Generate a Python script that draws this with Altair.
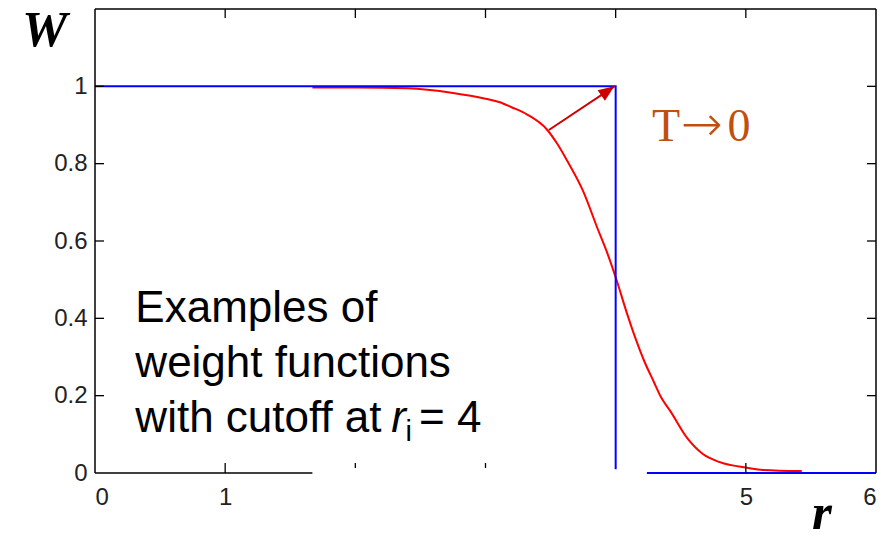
import altair as alt
import pandas as pd

# Smooth (finite-temperature) weight function
red_r = [1.67, 2.0, 2.4, 2.75, 3.0, 3.11, 3.2, 3.32, 3.47, 3.55, 3.63, 3.75, 3.86,
         3.94, 4.01, 4.08, 4.16, 4.22, 4.29, 4.35, 4.42, 4.55, 4.67, 4.80, 5.02,
         5.13, 5.43]
red_w = [0.997, 0.997, 0.995, 0.983, 0.968, 0.959, 0.946, 0.927, 0.889, 0.852,
         0.806, 0.729, 0.633, 0.565, 0.496, 0.42, 0.341, 0.289, 0.238, 0.195,
         0.160, 0.090, 0.049, 0.028, 0.013, 0.008, 0.005]

# Sharp step (T -> 0 limit) with cutoff at r = 4
step_r = [0, 4, 4]
step_w = [1, 1, 0.01]
base_r = [4.24, 6]
base_w = [0, 0]

# Arrow pointing from the smooth curve to the corner of the step
arrow_r = [3.487, 3.99]
arrow_w = [0.887, 1.0]

x_labels = [0, 1, 5, 6]
y_labels = [0, 0.2, 0.4, 0.6, 0.8, 1]
top_ticks = [1, 2, 3, 4, 5]
bottom_full_ticks = [1, 5]
bottom_short_ticks = [2, 3]
side_ticks = [0.2, 0.4, 0.6, 0.8, 1]

W, H = 781, 464
xs = alt.Scale(domain=[0, 6], nice=False, zero=False)
ys = alt.Scale(domain=[0, 1.2], nice=False, zero=False)

# Same axis definition on every layer so the merged axes keep their labels
ax_x = alt.Axis(values=x_labels, format="d", ticks=False, tickSize=0, domain=False,
                grid=False, labelPadding=12, labelBaseline="top", title=None)
ax_y = alt.Axis(values=y_labels, format="~g", ticks=False, tickSize=0, domain=False,
                grid=False, labelPadding=8, title=None)


def X(field):
    return alt.X(field, scale=xs, axis=ax_x)


def Y(field):
    return alt.Y(field, scale=ys, axis=ax_y)


def label(r, w, s, **style):
    df = pd.DataFrame({"r": [r], "w": [w], "s": [s]})
    return alt.Chart(df).mark_text(align="left", baseline="alphabetic", **style).encode(
        x=X("r:Q"), y=Y("w:Q"), text="s:N")


red_df = pd.DataFrame({"r": red_r, "w": red_w})
step_df = pd.DataFrame({"r": step_r, "w": step_w, "i": range(len(step_r))})
base_df = pd.DataFrame({"r": base_r, "w": base_w})
arrow_df = pd.DataFrame({"r": arrow_r, "w": arrow_w})
head_df = arrow_df.tail(1)

red = alt.Chart(red_df).mark_line(color="#FF0000", strokeWidth=2, interpolate="monotone").encode(
    x=X("r:Q"), y=Y("w:Q"))

step = alt.Chart(step_df).mark_line(color="#0000FF", strokeWidth=2).encode(
    x=X("r:Q"), y=Y("w:Q"), order="i:Q")
base = alt.Chart(base_df).mark_line(color="#0000FF", strokeWidth=2).encode(
    x=X("r:Q"), y=Y("w:Q"))

# Box frame: left, top, right and the visible part of the bottom edge
frame_df = pd.DataFrame({
    "x": [0, 0, 6, 0], "x2": [0, 6, 6, 1.67],
    "y": [0, 1.2, 0, 0], "y2": [1.2, 1.2, 1.2, 0],
})
frame = alt.Chart(frame_df).mark_rule(color="#000000", strokeWidth=1.5).encode(
    x=X("x:Q"), x2="x2:Q", y=Y("y:Q"), y2="y2:Q")

# Inward tick marks on all four sides
tick_style = dict(color="#000000", strokeWidth=1.3)
t_top = alt.Chart(pd.DataFrame({"t": top_ticks})).mark_rule(**tick_style).encode(
    x=X("t:Q"), y=alt.value(0), y2=alt.value(9))
t_bot = alt.Chart(pd.DataFrame({"t": bottom_full_ticks})).mark_rule(**tick_style).encode(
    x=X("t:Q"), y=alt.value(H - 10), y2=alt.value(H))
t_bot_s = alt.Chart(pd.DataFrame({"t": bottom_short_ticks})).mark_rule(**tick_style).encode(
    x=X("t:Q"), y=alt.value(H - 10), y2=alt.value(H - 5))
t_left = alt.Chart(pd.DataFrame({"t": side_ticks})).mark_rule(**tick_style).encode(
    y=Y("t:Q"), x=alt.value(0), x2=alt.value(9))
t_right = alt.Chart(pd.DataFrame({"t": side_ticks})).mark_rule(**tick_style).encode(
    y=Y("t:Q"), x=alt.value(W - 9), x2=alt.value(W))

arrow_line = alt.Chart(arrow_df).mark_line(color="#CC0000", strokeWidth=2).encode(
    x=X("r:Q"), y=Y("w:Q"))
arrow_head = alt.Chart(head_df).mark_point(
    shape="M0,0L0.4,1L-0.4,1Z", size=1024, angle=55, filled=True, opacity=1,
    color="#CC0000").encode(x=X("r:Q"), y=Y("w:Q"))

# "T → 0" label, built from three pieces so the arrow is full width
orange = "#C0500F"
t_T = label(4.279, 0.858, "T", font="Liberation Serif", fontSize=46, color=orange)
t_arrow = label(4.50, 0.858, "→", font="DejaVu Sans", fontSize=50, fontWeight=200, color=orange)
t_0 = label(4.86, 0.858, "0", font="Liberation Serif", fontSize=46, color=orange)

sans = dict(font="Liberation Sans", fontSize=44, color="#000000")
note1 = label(0.31, 0.391, "Examples of", **sans)
note2 = label(0.31, 0.248, "weight functions", **sans)
note3 = label(0.31, 0.106, "with cutoff at", **sans)
sym_r = label(2.275, 0.106, "r", fontStyle="italic", **sans)
sym_i = label(2.385, 0.083, "i", font="Liberation Sans", fontSize=29, color="#000000")
sym_eq = label(2.49, 0.106, "= 4", **sans)

# Axis symbols W (vertical) and r (horizontal)
one = pd.DataFrame({"k": [0]})
w_title = alt.Chart(one).mark_text(
    text="W", font="Liberation Serif", fontSize=51, fontStyle="italic", fontWeight="bold",
    color="#000000", align="left", baseline="alphabetic"
).encode(x=alt.value(-73), y=alt.value(37))
r_title = alt.Chart(one).mark_text(
    text="r", font="Liberation Serif", fontSize=51, fontStyle="italic", fontWeight="bold",
    color="#000000", align="left", baseline="alphabetic"
).encode(x=alt.value(717), y=alt.value(520))

chart = alt.layer(
    red, step, base, frame, t_top, t_bot, t_bot_s, t_left, t_right,
    arrow_line, arrow_head, t_T, t_arrow, t_0, note1, note2, note3,
    sym_r, sym_i, sym_eq, w_title, r_title
).properties(
    width=W, height=H,
    padding={"left": 95, "top": 9, "right": 17, "bottom": 68},
    autosize=alt.AutoSizeParams(type="none"),
).configure_view(stroke=None).configure_axis(
    labelFont="Liberation Sans", labelFontSize=24, labelColor="#222222"
)

chart.save("out.html", embed_options={"renderer": "svg", "actions": False})
